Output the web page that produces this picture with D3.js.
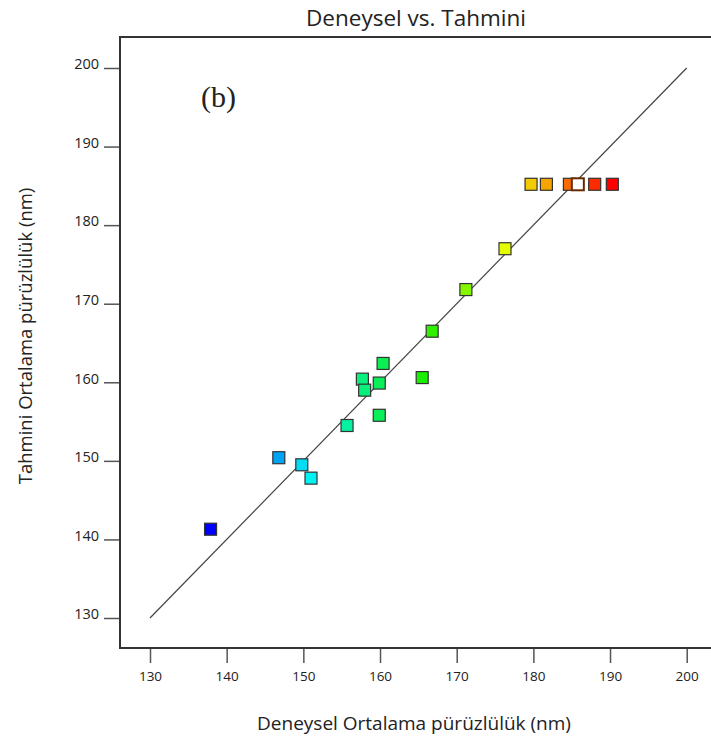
<!DOCTYPE html>
<html>
<head>
<meta charset="utf-8">
<script src="https://cdn.jsdelivr.net/npm/d3@7"></script>
<style>
  html, body { margin: 0; padding: 0; background: #fff; }
  svg { display: block; }
  text { font-family: "Open Sans", "Noto Sans", sans-serif; fill: #222; }
</style>
</head>
<body>
<script>
// ---- data ----
const title = "Deneysel vs. Tahmini";
const panelLabel = "(b)";
const xLabel = "Deneysel Ortalama pürüzlülük (nm)";
const yLabel = "Tahmini Ortalama pürüzlülük (nm)";
const xTicks = [130, 140, 150, 160, 170, 180, 190, 200];
const yTicks = [130, 140, 150, 160, 170, 180, 190, 200];
const experimental = [137.9, 146.8, 149.8, 151.0, 155.7, 157.7, 158.0, 159.9, 159.9, 160.4,
                      165.5, 166.8, 171.2, 176.3, 179.7, 181.7, 184.7, 185.8, 188.0, 190.3];
const predicted    = [141.3, 150.4, 149.5, 147.8, 154.5, 160.4, 159.0, 159.9, 155.8, 162.4,
                      160.6, 166.5, 171.8, 177.0, 185.2, 185.2, 185.2, 185.2, 185.2, 185.2];
const highlighted = 17;          // the selected (hollow) run
const lineEnds = [130, 200];     // y = x reference line

// ---- layout ----
const W = 711, H = 741;
const frame = { left: 120, top: 37, right: 724, bottom: 648 };

const svg = d3.select("body").append("svg").attr("width", W).attr("height", H);

const x = d3.scaleLinear().domain([130, 200]).range([150, 686.7]);
const y = d3.scaleLinear().domain([130, 200]).range([618, 68]);
const color = d3.scaleLinear()
  .domain([138, 151, 165, 177, 190.3])
  .range(["#0000ff", "#00f2f2", "#10ee00", "#f0ff00", "#ff0000"])
  .clamp(true);

// frame
svg.append("rect")
  .attr("x", frame.left).attr("y", frame.top)
  .attr("width", frame.right - frame.left).attr("height", frame.bottom - frame.top)
  .attr("fill", "none").attr("stroke", "#333").attr("stroke-width", 2);

// x axis
const xAxis = svg.append("g")
  .attr("transform", `translate(0,${frame.bottom + 1})`)
  .call(d3.axisBottom(x).tickValues(xTicks).tickSize(14).tickPadding(8).tickFormat(d3.format("d")));
xAxis.select(".domain").remove();
xAxis.selectAll(".tick line").attr("stroke", "#555").attr("stroke-width", 1.5);
xAxis.selectAll(".tick text").attr("font-size", 13.5).attr("fill", "#333")
  .style("font-family", "'Open Sans', sans-serif");

// y axis
const yAxis = svg.append("g")
  .attr("transform", `translate(${frame.left - 1},0)`)
  .call(d3.axisLeft(y).tickValues(yTicks).tickSize(15).tickPadding(5).tickFormat(d3.format("d")));
yAxis.select(".domain").remove();
yAxis.selectAll(".tick line").attr("stroke", "#555").attr("stroke-width", 1.5);
yAxis.selectAll(".tick text").attr("font-size", 14.5).attr("fill", "#333")
  .attr("dy", "0.05em")
  .style("font-family", "'Open Sans', sans-serif");

// y = x line
svg.append("line")
  .attr("x1", x(lineEnds[0])).attr("y1", y(lineEnds[0]))
  .attr("x2", x(lineEnds[1])).attr("y2", y(lineEnds[1]))
  .attr("stroke", "#444").attr("stroke-width", 1.2);

// points
const pts = experimental.map((e, i) => ({ e, p: predicted[i], i }));
const order = pts.filter(d => d.i !== highlighted).concat(pts.filter(d => d.i === highlighted));
const s = 12;
svg.append("g").selectAll("rect").data(order).join("rect")
  .attr("x", d => x(d.e) - s / 2)
  .attr("y", d => y(d.p) - s / 2)
  .attr("width", s).attr("height", s)
  .attr("fill", d => d.i === highlighted ? "#ffffff" : color(d.e))
  .attr("stroke", d => d.i === highlighted ? "#6a2a00" : "#333")
  .attr("stroke-width", d => d.i === highlighted ? 2 : 1.2);

// panel label
svg.append("text")
  .attr("x", 201).attr("y", 107)
  .attr("font-size", 30)
  .style("font-family", "'Liberation Serif', 'Times New Roman', serif")
  .attr("fill", "#111")
  .text(panelLabel);

// title
svg.append("text")
  .attr("x", 416).attr("y", 26)
  .attr("text-anchor", "middle")
  .attr("font-size", 22.5)
  .attr("fill", "#222")
  .text(title);

// x label
svg.append("text")
  .attr("x", 414).attr("y", 730)
  .attr("text-anchor", "middle")
  .attr("font-size", 19)
  .attr("fill", "#222")
  .text(xLabel);

// y label
svg.append("text")
  .attr("transform", `translate(32,336) rotate(-90)`)
  .attr("text-anchor", "middle")
  .attr("font-size", 18.5)
  .attr("fill", "#222")
  .text(yLabel);
</script>
</body>
</html>
